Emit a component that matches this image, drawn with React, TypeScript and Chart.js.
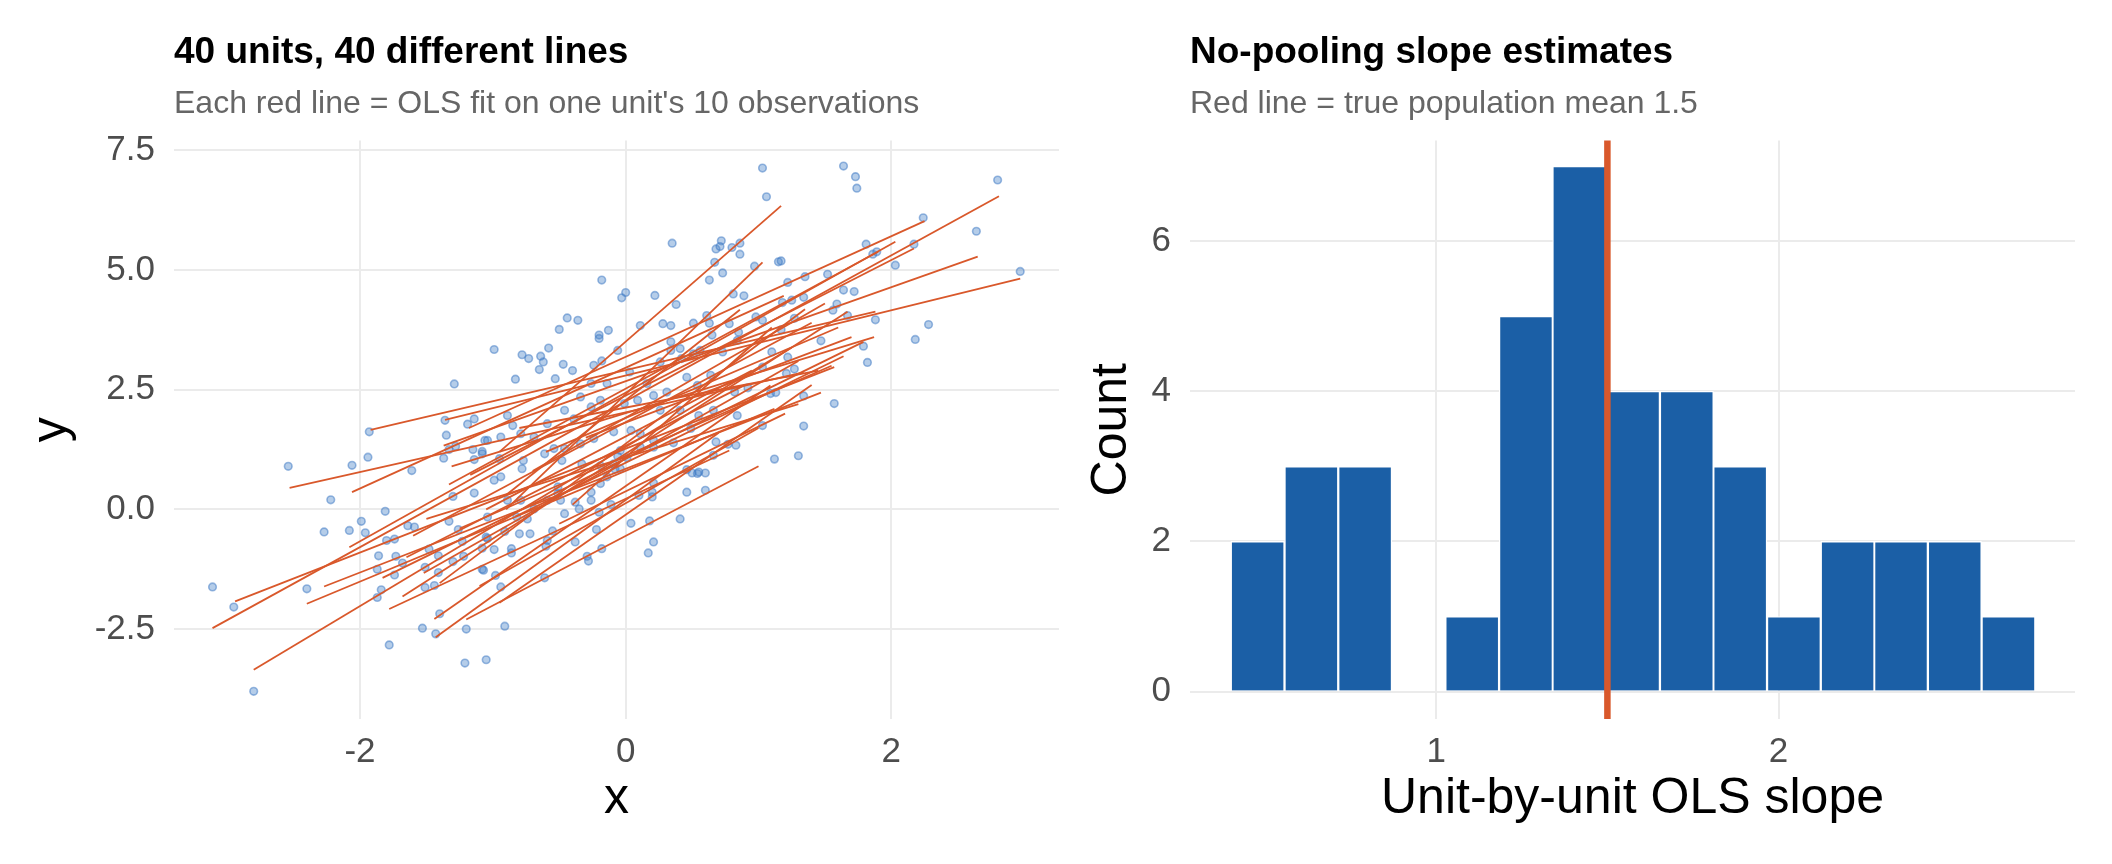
import React, { useEffect, useRef } from "react";
import { Chart, registerables } from "chart.js";

Chart.register(...registerables);

const FONT = '"Liberation Sans", Arial, sans-serif';

// observations
const obsX = [
  -1.29, -1.93, -1.36, -1.19, -1.14, -1.35, -1.28, -1.06, -2.54, -2.06, -1.94, -1.61, -1.37, -1.14, -1.14, -1.3,
  -2.22, -1.81, -1.99, -2.27, -2.08, -1.96, -1.8, -1.74, -1.64, -1.59, -1.86, -1.73, -1.87, -1.74, -1.68, -1.51,
  -1.41, -1.84, -1.87, -1.51, -1.44, -3.11, -2.95, -2.4, -1.4, -1.53, -1.43, -1.2, -1.78, -1.21, -1.05, -2.8,
  -1.48, -1.41, -1.3, -1.22, -1.08, -1.23, -1.08, -1.05, -1.26, -1.33, -1.15, -1.08, -1.33,
  1.03, 1.06, 0.35, 0.72, 0.68, 0.71, 0.8, 0.86, 0.86, 0.67, 1.15, 0.73, 0.97, 0.63, -0.18, 0.0, -0.03, 0.22, 0.38,
  0.81, 0.89,
  1.64, 1.73, 1.74, 2.8, 2.24, 2.64, 1.81, 2.17, 1.86, 1.89, 1.17, 2.03, 2.97, 1.22, 1.35, 1.52, 1.64, 1.72, 1.25,
  1.34, 1.18, 1.59, 1.56, 1.67, 1.88, 1.27, 2.28, 2.18, 1.17, 1.47, 1.79, 1.82, 1.22, 1.27, 1.21, 1.13, 1.34, 1.57,
  1.34, 1.12, 1.3, 1.1,
  -0.99, -0.78, -0.73, -0.64, -0.62, -0.65, -0.58, -0.5, -0.44, -0.36, -0.2, -0.2, -0.13, -0.47, -0.4, -0.83, -0.53,
  -0.24, -0.18, -0.06, 0.03, -0.14, 0.11, 0.28, 0.34, 0.51, 0.61, 0.63, 0.78, 0.85, 0.98, 1.03, 0.34, 0.34, 0.41,
  0.42, 0.51, 0.56, 0.65, 0.73, 0.84, 1.03, 0.26, 0.46, 0.54, 0.64, 0.82, 0.92, 1.09, 0.21, 0.31, 0.26, 0.41, 0.55,
  0.66, 0.84, 0.49, 1.03, 0.77, 0.83, 0.68, 0.66, 0.36, 0.21, 0.21, 0.11, 0.01, -0.06, -0.08, -0.04, -0.19, -0.14,
  -0.19, -0.26, -0.26, -0.11, -0.2, -0.35, 0.21, 0.2, 0.2, 0.1, 0.46, 0.54, 0.6, 0.46, 0.6, 0.04, 0.18, 0.41, 0.21,
  0.17, -0.22, -0.18, -0.29, -0.28, -0.38, -0.6, -0.55, -0.61, -0.91, -0.94, -0.98, -1.07, -0.86, -0.86, -0.8,
  -0.91, -1.04, -0.99, -0.69, -0.74, -0.59, -0.51, -0.46, -0.38, -0.78, -0.77, -0.94, -0.99, -0.95, -1.04, -0.85,
  -0.89, -0.61, -0.54, -0.69, -0.59, -0.39, -0.46, -0.26, -0.24, -0.34, -0.46, -0.09, -0.48, -0.51, -0.79, -0.89,
  -1.04, -0.82, -0.72, -0.59, -0.49, -0.33, 0.04, 0.11, -0.04, -0.09, -0.01, -0.19, -0.34, 0.09, 0.16, -0.26,
  -0.79, -0.94, -1.08, 0.5, 0.55,
];
const obsY = [
  2.62, 1.62, 1.86, 1.78, 1.89, 1.55, 1.32, 1.44, 0.9, 0.92, 1.09, 0.81, 1.07, 1.04, 0.34, 0.27,
  0.2, -0.04, -0.25, -0.47, -0.44, -0.49, -0.65, -0.62, -0.34, -0.37, -0.97, -0.98, -1.25, -1.37, -1.12, -1.21,
  -1.32, -1.68, -1.84, -1.63, -1.59, -1.62, -2.04, -1.66, -2.18, -2.48, -2.6, -2.5, -2.83, -3.21, -3.14, -3.8,
  -0.83, -0.97, -1.09, -0.98, -0.81, -0.67, -1.25, -0.58, -0.42, -0.25, 1.25, 1.21, 1.25,
  7.13, 6.53, 5.56, 5.61, 5.44, 5.49, 5.47, 5.56, 5.33, 5.16, 5.17, 4.94, 5.08, 4.79, 4.79, 4.53, 4.42, 4.47, 4.28,
  4.5, 4.46,
  7.17, 6.95, 6.71, 6.88, 6.09, 5.81, 5.54, 5.54, 5.33, 5.38, 5.19, 5.1, 4.97, 4.74, 4.86, 4.91, 4.58, 4.55, 4.37,
  4.43, 4.32, 4.29, 4.16, 4.05, 3.96, 3.99, 3.86, 3.55, 3.75, 3.52, 3.41, 3.07, 3.18, 2.93, 2.84, 2.44, 2.37, 2.21,
  1.74, 1.05, 1.12, 3.29,
  3.34, 3.23, 3.15, 3.2, 3.08, 2.92, 3.37, 3.76, 4.0, 3.95, 3.64, 3.57, 3.74, 3.03, 2.9, 2.72, 2.73,
  3.01, 3.1, 3.32, 2.87, 2.63, 3.84, 3.88, 3.84, 3.89, 4.05, 3.89, 3.88, 3.7, 4.02, 3.95, 3.5, 3.32, 3.36,
  3.15, 3.25, 3.32, 3.64, 3.29, 3.53, 2.97, 3.08, 2.76, 2.59, 2.8, 2.45, 2.54, 2.42, 2.38, 2.45, 2.07, 2.07, 1.96,
  2.07, 1.96, 1.69, 1.75, 1.36, 1.34, 1.41, 1.13, 1.39, 1.44, 1.3, 1.3, 1.08, 1.11, 0.84, 0.85, 0.91, 0.68,
  0.54, 0.36, 0.19, 0.1, -0.06, 0.01, 0.55, 0.36, 0.26, 0.29, 0.83, 0.75, 0.76, 0.36, 0.4, -0.29, -0.24, -0.2, -0.68,
  -0.91, -0.42, -0.82, -0.98, -1.08, -0.68, -0.77, -0.45, -1.43, -2.44, -1.62, -1.38, -1.27, -0.91, -0.82, -0.51,
  -0.46, -0.61, -0.84, 0.01, -0.2, 0.19, 0.33, -0.09, 0.15, 0.85, 1.02, 0.68, 0.61, 1.06, 1.44, 1.75,
  1.96, 1.16, 1.27, 1.51, 1.79, 1.89, 2.07, 2.14, 1.48, 1.37, 1.27, 0.95, 1.02, 0.47, 0.19, 0.19,
  -0.16, -0.16, -0.51, -0.65, 0.19, 0.95, 1.65, 1.58, 1.23, 1.62, 2.21, 2.28, 2.35, 2.28, 2.63, 2.63,
  1.58, 1.51, 1.16, 0.76, 0.78,
];

// per-unit OLS fit segments (start and end of each red line)
const fitX0 = [
  -3.11, -2.94, -2.8, -2.53, -2.4, -2.27, -2.06, -1.92, -2.08, -1.83, -1.78, -1.68, -1.44, -1.43, -1.4, -1.36, -1.37,
  -1.33, -1.31, -1.52, -1.18, -1.17, -0.83, -1.6, -0.95, -0.9, -1.1, -0.6, -0.5, -0.7, -1.25, -0.95, -0.4, -1.5, -0.3,
  -1.05, -0.8, -1.65, -0.9, -1.2,
];
const fitY0 = [
  -2.48, -1.92, -3.35, 0.45, -1.97, -1.61, 0.36, 1.66, -0.79, -1.43, -2.08, -1.82, -2.29, -2.67, -1.54, 1.87, 1.33,
  0.52, 0.9, -1.33, 1.7, 0.72, -0.15, -0.55, 1.2, 0.3, -1.6, 1.2, -0.3, 0.8, -0.4, -1.95, 0.1, -0.2, 1.5, 0.0, 1.7,
  -1.0, 0.0, -2.3,
];
const fitX1 = [
  2.81, 1.57, 1.25, 1.34, 1.12, 1.47, 1.19, 1.88, 2.03, 1.79, 0.78, 1.67, 1.09, 0.7, 1.35, 2.97, 2.65, 1.9, 1.87, 1.3,
  2.25, 2.17, 1.64, 1.4, 1.17, 0.86, 1.0, 1.6, 1.2, 1.5, 1.55, 1.4, 1.1, 1.3, 1.7, 0.95, 1.45, 0.9, 1.03, 1.0,
];
const fitY1 = [
  6.54, 2.97, 3.38, 2.86, 2.1, 2.44, 4.46, 4.13, 5.59, 3.5, 1.23, 4.13, 2.59, 1.6, 4.18, 4.82, 5.28, 5.38, 3.6, 3.1,
  6.02, 5.45, 3.2, 3.9, 6.34, 4.17, 1.7, 3.8, 2.0, 4.3, 3.0, 2.6, 3.8, 2.2, 3.6, 2.9, 2.9, 2.6, 5.16, 0.9,
];

// histogram of unit slopes
const binMid = [0.478, 0.635, 0.792, 0.948, 1.105, 1.262, 1.418, 1.575, 1.732, 1.888, 2.045, 2.202, 2.358, 2.515, 2.672];
const binCount = [2, 3, 3, 0, 1, 5, 7, 4, 4, 3, 1, 2, 2, 2, 1];
const TRUE_MEAN = 1.5;

const leftXTicks = [-2, 0, 2];
const leftYTicks = [-2.5, 0, 2.5, 5, 7.5];
const rightXTicks = [1, 2];
const rightYTicks = [0, 2, 4, 6];

const GRID = "#ebebeb";
const TICK_COLOR = "#4d4d4d";
const RED = "#d9582b";
const BLUE = "#1b5fa6";

function titlePlugin(title: string, subtitle: string) {
  return {
    id: "panelTitles",
    afterDraw: (chart: any) => {
      const ctx = chart.ctx;
      const left = chart.chartArea.left;
      ctx.save();
      ctx.textAlign = "left";
      ctx.textBaseline = "alphabetic";
      ctx.fillStyle = "#000000";
      ctx.font = `bold 37px ${FONT}`;
      ctx.fillText(title, left, 63);
      ctx.fillStyle = "#666666";
      ctx.font = `32px ${FONT}`;
      ctx.fillText(subtitle, left, 113);
      ctx.restore();
    },
  };
}

const vlinePlugin = {
  id: "meanLine",
  afterDatasetsDraw: (chart: any) => {
    const { ctx, chartArea, scales } = chart;
    const px = scales.x.getPixelForValue(TRUE_MEAN);
    ctx.save();
    ctx.strokeStyle = RED;
    ctx.lineWidth = 6.5;
    ctx.beginPath();
    ctx.moveTo(px, chartArea.top);
    ctx.lineTo(px, chartArea.bottom);
    ctx.stroke();
    ctx.restore();
  },
};

const tickFont = { family: FONT, size: 35 };
const axisTitleFont = { family: FONT, size: 50 };

function axis(opts: any) {
  return {
    type: "linear",
    min: opts.min,
    max: opts.max,
    offset: false,
    afterBuildTicks: (s: any) => {
      s.ticks = opts.ticks.map((v: number) => ({ value: v }));
    },
    afterFit: opts.afterFit,
    grid: { color: GRID, lineWidth: 2, drawTicks: false, offset: false },
    border: { display: false },
    ticks: {
      padding: opts.tickPad,
      font: tickFont,
      color: TICK_COLOR,
      maxRotation: 0,
      autoSkip: false,
      callback: opts.format,
    },
    title: {
      display: true,
      text: opts.title,
      font: axisTitleFont,
      color: "#000000",
      padding: opts.titlePad,
    },
  };
}

function ScatterPanel() {
  const ref = useRef<HTMLCanvasElement | null>(null);
  useEffect(() => {
    if (!ref.current) return;
    const points = obsX.map((x, i) => ({ x, y: obsY[i] }));
    const lines = fitX0.map((x0, i) => ({
      data: [
        { x: x0, y: fitY0[i] },
        { x: fitX1[i], y: fitY1[i] },
      ],
      showLine: true,
      borderColor: RED,
      borderWidth: 1.8,
      pointRadius: 0,
      order: 0,
    }));
    const chart = new Chart(ref.current, {
      type: "scatter",
      data: {
        datasets: [
          ...lines,
          {
            data: points,
            pointRadius: 3.8,
            borderWidth: 1.6,
            backgroundColor: "rgba(70,130,200,0.4)",
            borderColor: "rgba(60,120,195,0.5)",
            order: 1,
          },
        ],
      } as any,
      options: {
        responsive: false,
        animation: false,
        devicePixelRatio: 1,
        layout: { padding: { top: 140.5, right: 21, bottom: 0, left: 0 } },
        plugins: { legend: { display: false }, tooltip: { enabled: false } },
        scales: {
          x: axis({
            min: -3.4,
            max: 3.262,
            ticks: leftXTicks,
            tickPad: 12,
            format: (v: number) => String(v),
            title: "x",
            titlePad: { top: 0, bottom: 35 },
            afterFit: (s: any) => {
              s.height = 145;
            },
          }),
          y: axis({
            min: -4.378,
            max: 7.705,
            ticks: leftYTicks,
            tickPad: 19,
            format: (v: number) => v.toFixed(1),
            title: "y",
            titlePad: { top: 22, bottom: 0 },
            afterFit: (s: any) => {
              s.width = 174;
            },
          }),
        },
      } as any,
      plugins: [titlePlugin("40 units, 40 different lines", "Each red line = OLS fit on one unit's 10 observations")],
    });
    return () => chart.destroy();
  }, []);
  return (
    <canvas
      ref={ref}
      width={1080}
      height={864}
      style={{ position: "absolute", left: 0, top: 0, width: 1080, height: 864 }}
    />
  );
}

function HistogramPanel() {
  const ref = useRef<HTMLCanvasElement | null>(null);
  useEffect(() => {
    if (!ref.current) return;
    const chart = new Chart(ref.current, {
      type: "bar",
      data: {
        datasets: [
          {
            data: binMid.map((x, i) => ({ x, y: binCount[i] })),
            backgroundColor: BLUE,
            borderColor: "#ffffff",
            borderWidth: 1.3,
            categoryPercentage: 1,
            barPercentage: 1,
          },
        ],
      } as any,
      options: {
        responsive: false,
        animation: false,
        devicePixelRatio: 1,
        layout: { padding: { top: 140.5, right: 37, bottom: 0, left: 0 } },
        plugins: { legend: { display: false }, tooltip: { enabled: false } },
        scales: {
          x: axis({
            min: 0.2803,
            max: 2.8664,
            ticks: rightXTicks,
            tickPad: 12,
            format: (v: number) => String(v),
            title: "Unit-by-unit OLS slope",
            titlePad: { top: 0, bottom: 35 },
            afterFit: (s: any) => {
              s.height = 145;
            },
          }),
          y: axis({
            min: -0.3665,
            max: 7.344,
            ticks: rightYTicks,
            tickPad: 19,
            format: (v: number) => String(v),
            title: "Count",
            titlePad: { top: 2, bottom: 0 },
            afterFit: (s: any) => {
              s.width = 110;
            },
          }),
        },
      } as any,
      plugins: [titlePlugin("No-pooling slope estimates", "Red line = true population mean 1.5"), vlinePlugin],
    });
    return () => chart.destroy();
  }, []);
  return (
    <canvas
      ref={ref}
      width={1032}
      height={864}
      style={{ position: "absolute", left: 1080, top: 0, width: 1032, height: 864 }}
    />
  );
}

export default function App() {
  return (
    <div
      style={{
        position: "absolute",
        left: 0,
        top: 0,
        width: 2112,
        height: 864,
        background: "#ffffff",
        overflow: "hidden",
      }}
    >
      <ScatterPanel />
      <HistogramPanel />
    </div>
  );
}
